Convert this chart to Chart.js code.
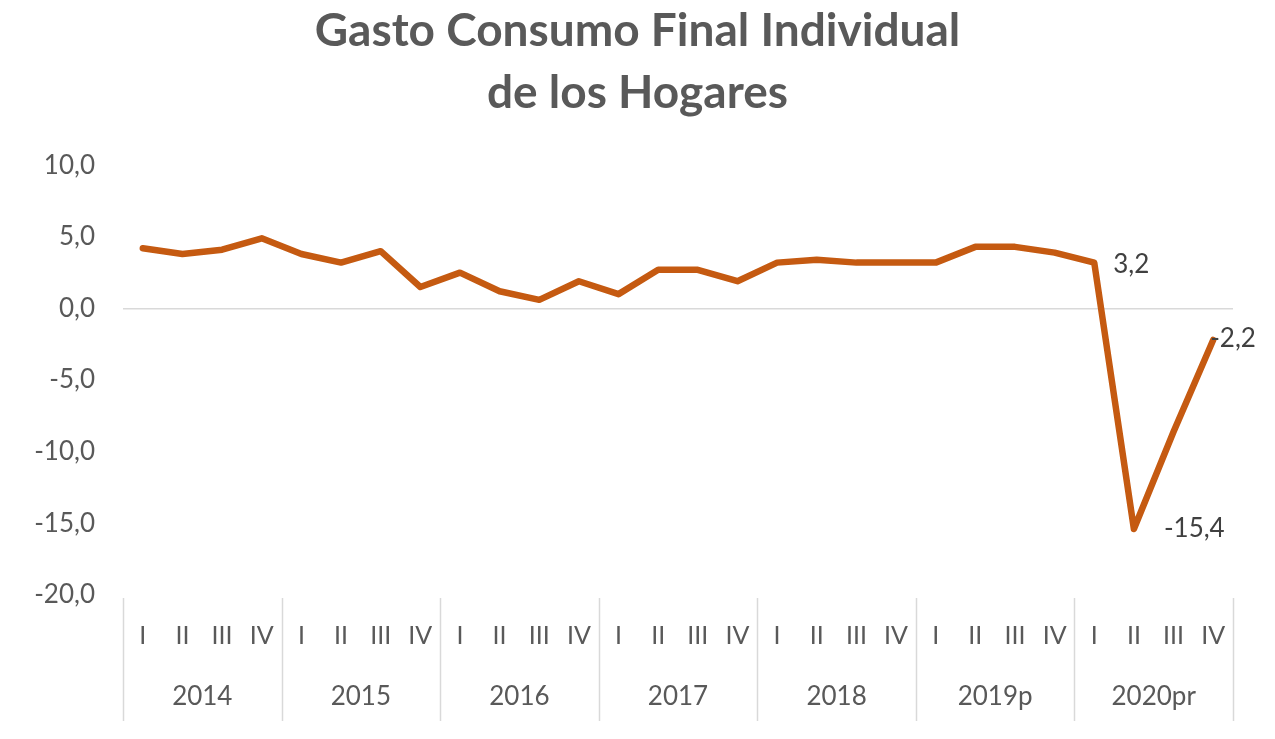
<!DOCTYPE html>
<html>
<head>
<meta charset="utf-8">
<script src="https://cdn.jsdelivr.net/npm/chart.js@4/dist/chart.umd.min.js"></script>
<style>
  html, body { margin: 0; padding: 0; background: #fff; }
  #wrap { width: 1275px; height: 739px; }
</style>
</head>
<body>
<div id="wrap"><canvas id="chart" width="1275" height="739"></canvas></div>
<script>
// Quarterly growth (%)
const years = ['2014', '2015', '2016', '2017', '2018', '2019p', '2020pr'];
const quarters = ['I', 'II', 'III', 'IV'];
const values = [
  4.2, 3.8, 4.1, 4.9,   // 2014
  3.8, 3.2, 4.0, 1.5,   // 2015
  2.5, 1.2, 0.6, 1.9,   // 2016
  1.0, 2.7, 2.7, 1.9,   // 2017
  3.2, 3.4, 3.2, 3.2,   // 2018
  3.2, 4.3, 4.3, 3.9,   // 2019p
  3.2, -15.4, -8.6, -2.2 // 2020pr
];
const labelled = [24, 25, 27]; // points that carry a value label

const labels = [];
years.forEach(() => quarters.forEach(q => labels.push(q)));

const grey = '#595959';
const fontFam = 'Lato, "Open Sans", sans-serif';
const fmt = v => v.toFixed(1).replace('.', ',');

// draws the value labels and the year dividers under the plot
const extras = {
  id: 'extras',
  afterDatasetsDraw(chart) {
    const ctx = chart.ctx;
    const meta = chart.getDatasetMeta(0);
    const offs = { 24: [19, 2], 25: [30, 0], 27: [-3, -1] };
    ctx.save();
    ctx.font = '26px ' + fontFam;
    ctx.fillStyle = '#404040';
    ctx.textBaseline = 'middle';
    ctx.textAlign = 'left';
    labelled.forEach(i => {
      const p = meta.data[i];
      const o = offs[i];
      ctx.fillText(fmt(values[i]), p.x + o[0], p.y + o[1]);
    });
    ctx.restore();
  },
  afterDraw(chart) {
    const x = chart.scales.x;
    const x2 = chart.scales.x2;
    const ctx = chart.ctx;
    const step = x.getPixelForValue(1) - x.getPixelForValue(0);
    ctx.save();
    ctx.strokeStyle = '#d9d9d9';
    ctx.lineWidth = 1.5;
    for (let g = 0; g <= years.length; g++) {
      const px = Math.round(x.getPixelForValue(g * 4) - step / 2) + 0.5;
      ctx.beginPath();
      ctx.moveTo(px, chart.chartArea.bottom + 3);
      ctx.lineTo(px, x2.bottom - 8);
      ctx.stroke();
    }
    ctx.restore();
  }
};

new Chart(document.getElementById('chart'), {
  type: 'line',
  data: {
    labels: labels,
    datasets: [{
      data: values,
      borderColor: '#C55A11',
      borderWidth: 6.5,
      borderJoinStyle: 'round',
      borderCapStyle: 'round',
      pointRadius: 0,
      tension: 0,
      fill: false
    }]
  },
  options: {
    responsive: false,
    animation: false,
    layout: { padding: { left: 0, right: 0, top: 0, bottom: 10 } },
    plugins: {
      legend: { display: false },
      tooltip: { enabled: false },
      title: {
        display: true,
        text: ['Gasto Consumo Final Individual', 'de los Hogares'],
        color: grey,
        font: { family: fontFam, size: 46, weight: 'bold', lineHeight: 1.35 },
        padding: { top: 0, bottom: 41 }
      }
    },
    scales: {
      y: {
        min: -20,
        max: 10,
        ticks: {
          stepSize: 5,
          color: grey,
          padding: 28,
          font: { family: fontFam, size: 26 },
          callback: v => fmt(v)
        },
        grid: {
          drawTicks: false,
          lineWidth: 1.5,
          color: c => (c.tick && c.tick.value === 0) ? '#d9d9d9' : 'rgba(0,0,0,0)'
        },
        border: { display: false },
        afterFit: s => { s.width = 123; }
      },
      // empty right-hand axis: keeps room for the end label
      yR: {
        position: 'right',
        min: -20,
        max: 10,
        ticks: { display: false },
        grid: { display: false },
        border: { display: false },
        afterFit: s => { s.width = 42; }
      },
      x: {
        offset: true,
        ticks: {
          color: grey,
          autoSkip: false,
          maxRotation: 0,
          padding: 18,
          font: { family: fontFam, size: 25 }
        },
        grid: { display: false },
        border: { display: false },
        afterFit: s => { s.height = 72; }
      },
      x2: {
        type: 'category',
        position: 'bottom',
        labels: years,
        offset: true,
        ticks: {
          color: grey,
          maxRotation: 0,
          padding: 6,
          font: { family: fontFam, size: 26 }
        },
        grid: { display: false },
        border: { display: false },
        afterFit: s => { s.height = 62; }
      }
    }
  },
  plugins: [extras]
});
</script>
</body>
</html>
